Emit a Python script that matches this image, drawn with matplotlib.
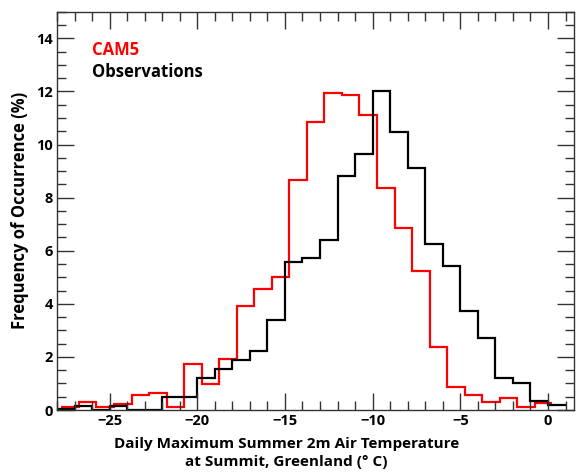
import numpy as np
import matplotlib
matplotlib.use("Agg")
import matplotlib.pyplot as plt
from matplotlib.ticker import MultipleLocator

plt.rcParams['font.family'] = ['Open Sans', 'DejaVu Sans']
plt.rcParams['font.weight'] = 'bold'

# CAM5: Klassen der Breite 1, beginnend bei -27.75
cam5_start = -27.75
cam5_freq = [0.10, 0.32, 0.12, 0.21, 0.56, 0.65, 0.12, 1.73, 0.98, 1.94,
             3.92, 4.55, 5.01, 8.68, 10.86, 11.94, 11.87, 11.10, 8.37, 6.87,
             5.23, 2.38, 0.88, 0.56, 0.31, 0.44, 0.12, 0.25]

# Beobachtungen: Klassen der Breite 1, beginnend bei -28
obs_start = -28.0
obs_freq = [0.05, 0.15, 0.00, 0.15, 0.00, 0.00, 0.50, 0.50, 1.19, 1.53,
            1.88, 2.22, 3.38, 5.58, 5.74, 6.42, 8.80, 9.65, 12.00, 10.49,
            9.12, 6.27, 5.43, 3.73, 2.72, 1.19, 1.03, 0.34, 0.19]

bin_width = 1.0

fig = plt.figure(figsize=(5.76, 4.74), dpi=100)
ax = fig.add_axes([0.099, 0.135, 0.898, 0.840])

cam5_edges = cam5_start + bin_width * np.arange(len(cam5_freq) + 1)
obs_edges = obs_start + bin_width * np.arange(len(obs_freq) + 1)

ax.stairs(cam5_freq, cam5_edges, color='#ff0000', linewidth=1.6, baseline=None)
ax.stairs(obs_freq, obs_edges, color='black', linewidth=1.6, baseline=None)

ax.set_xlim(-28, 1.5)
ax.set_ylim(0, 15)

ax.xaxis.set_minor_locator(MultipleLocator(1))
ax.yaxis.set_minor_locator(MultipleLocator(0.5))
ax.set_xticks([-25, -20, -15, -10, -5, 0])
ax.set_xticklabels(['\u221225', '\u221220', '\u221215', '\u221210', '\u22125', '0'])
ax.set_yticks([0, 2, 4, 6, 8, 10, 12, 14])

ax.tick_params(which='both', direction='in', top=True, right=True,
               color='#333333', width=1.0, labelsize=10.5)
ax.tick_params(which='major', length=12.5, pad=3)
ax.tick_params(which='minor', length=6.5)
for lab in ax.get_xticklabels() + ax.get_yticklabels():
    lab.set_fontweight('bold')
for sp in ax.spines.values():
    sp.set_color('#333333')
    sp.set_linewidth(1.0)

ax.set_ylabel('Frequency of Occurrence (%)', fontsize=12, fontweight='bold', labelpad=5)
fig.text(0.497, 0.044, 'Daily Maximum Summer 2m Air Temperature\nat Summit, Greenland (\u00b0 C)',
         ha='center', va='center', fontsize=11, fontweight='bold', linespacing=1.3)

ax.text(0.068, 0.905, 'CAM5', transform=ax.transAxes, color='#ff0000',
        fontsize=12, fontweight='bold', va='center')
ax.text(0.068, 0.850, 'Observations', transform=ax.transAxes, color='black',
        fontsize=12, fontweight='bold', va='center')

fig.savefig('out.png', dpi=100)
